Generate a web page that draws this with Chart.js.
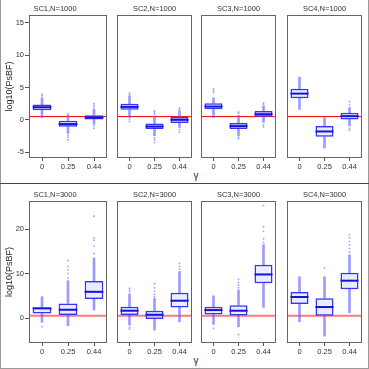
<!DOCTYPE html>
<html>
<head>
<meta charset="utf-8">
<script src="https://cdn.jsdelivr.net/npm/chart.js@4.4.0/dist/chart.umd.min.js"></script>
<style>
html, body { margin: 0; padding: 0; background: #fff; }
#fig { position: relative; width: 369px; height: 369px; overflow: hidden; font-family: "Liberation Sans", Arial, sans-serif; }
#fig canvas { position: absolute; }
.outer { position: absolute; left: 0; top: 0; width: 369px; height: 369px; box-sizing: border-box;
         border-left: 1px solid #999; border-right: 1px solid #999; border-bottom: 1px solid #999; }
.divider { position: absolute; left: 0; top: 183px; width: 369px; height: 1px; background: #444; }
.gamma { position: absolute; font-size: 10px; color: #333; transform: translate(-50%, -50%); }
</style>
</head>
<body>
<div id="fig">
  <div class="outer"></div>
  <div class="divider"></div>
  <div class="gamma" style="left:196px; top:175px;">γ</div>
  <div class="gamma" style="left:196px; top:360px;">γ</div>
</div>
<script>
const gammas = ['0', '0.25', '0.44'];

// N = 1000 row, one inner array per panel (SC1..SC4), one value per gamma
const titles1000 = ['SC1,N=1000', 'SC2,N=1000', 'SC3,N=1000', 'SC4,N=1000'];
const q1_1000  = [[1.49, -1.08, 0.05], [1.54, -1.43, -0.50], [1.64, -1.43, 0.46], [3.33, -2.60, 0.05]];
const med_1000 = [[1.95, -0.66, 0.35], [2.00, -1.03, 0.00], [2.05, -0.97, 0.87], [4.05, -1.80, 0.57]];
const q3_1000  = [[2.35, -0.15, 0.72], [2.50, -0.57, 0.42], [2.56, -0.50, 1.38], [4.80, -0.97, 1.08]];
const lo_1000  = [[0.35, -2.10, -0.66], [0.35, -2.46, -1.18], [0.35, -2.46, -0.40], [1.60, -4.35, -0.92]];
const hi_1000  = [[3.40, 0.77, 1.65], [3.70, 0.60, 1.40], [3.40, 0.72, 2.15], [6.60, 0.35, 1.90]];
// outliers: [gamma index, value]
const out_1000 = [
    [[0, 3.7], [0, 3.95], [1, 0.95], [1, -2.4], [1, -2.7], [1, -3.1], [2, 1.9], [2, 2.2], [2, 2.5], [2, -0.9], [2, -1.3]],
    [[0, 3.9], [0, 4.15], [0, 0.1], [0, -0.26], [1, 0.9], [1, 1.2], [1, 1.4], [1, -2.8], [1, -3.1], [1, -3.5], [2, 1.6], [2, 1.8], [2, -1.5], [2, -1.9]],
    [[0, 4.2], [0, 4.5], [0, 4.8], [1, 1.0], [1, 1.2], [1, -2.7], [1, -2.9], [2, 2.4], [2, 2.6], [2, -0.8], [2, -1.1]],
    [[2, 2.3], [2, 2.8], [2, -1.3], [2, -1.6]]
];
const ticks1000 = [-5, 0, 5, 10, 15];

// N = 3000 row
const titles3000 = ['SC1,N=3000', 'SC2,N=3000', 'SC3,N=3000', 'SC4,N=3000'];
const q1_3000  = [[1.05, 0.68, 4.30], [0.68, -0.23, 2.40], [0.83, 0.60, 7.80], [3.16, 0.52, 6.48]];
const med_3000 = [[2.18, 1.87, 5.90], [1.65, 0.75, 3.90], [1.80, 1.65, 9.80], [4.74, 2.48, 8.40]];
const q3_3000  = [[2.40, 3.30, 8.35], [2.55, 1.65, 5.70], [2.55, 2.87, 11.96], [5.87, 4.45, 10.20]];
const lo_3000  = [[-0.97, -1.70, 1.80], [-1.58, -2.70, -0.83], [-1.43, -1.96, 2.40], [-0.83, -4.06, 1.20]];
const hi_3000  = [[4.80, 8.40, 13.5], [5.40, 4.40, 10.45], [5.00, 6.30, 16.50], [9.30, 9.30, 14.20]];
const out_3000 = [
    [[0, -1.96], [1, 9.0], [1, 10.0], [1, 10.8], [1, 11.6], [1, 12.9], [2, 14.5], [2, 16.2], [2, 17.5], [2, 18.0], [2, 22.9]],
    [[0, 5.9], [0, 6.3], [0, 6.7], [0, -2.1], [0, -2.5], [1, 4.8], [1, 5.3], [1, 6.0], [1, 6.8], [1, 7.7], [2, 11.0], [2, 11.6], [2, 12.3]],
    [[0, -2.3], [1, 6.8], [1, 7.4], [1, 8.0], [1, 8.7], [1, -3.7], [2, 17.0], [2, 17.8], [2, 19.5], [2, 20.5], [2, 25.3]],
    [[1, 11.2], [2, 14.8], [2, 15.6], [2, 16.4], [2, 17.2], [2, 18.0], [2, 18.7]]
];
const ticks3000 = [0, 10, 20];

const refValue = 0.5;

const rows = [
    { top: 0, height: 178, min: -5.9, max: 16.2, ticks: ticks1000, titles: titles1000,
      q1: q1_1000, med: med_1000, q3: q3_1000, lo: lo_1000, hi: hi_1000, out: out_1000,
      refColor: '#ff0000', refWidth: 1 },
    { top: 186, height: 177, min: -5.6, max: 26.3, ticks: ticks3000, titles: titles3000,
      q1: q1_3000, med: med_3000, q3: q3_3000, lo: lo_3000, hi: hi_3000, out: out_3000,
      refColor: 'rgba(255,90,90,0.8)', refWidth: 2 }
];

const panelLeft = [29, 114, 198, 284];
const panelWidth = 81;
const fontFamily = '"Liberation Sans", Arial, sans-serif';

// panel frame
const framePlugin = {
    id: 'frame',
    afterDraw(chart) {
        const a = chart.chartArea, ctx = chart.ctx;
        ctx.save();
        ctx.strokeStyle = '#666';
        ctx.lineWidth = 1;
        ctx.strokeRect(Math.round(a.left) + 0.5, Math.round(a.top) + 0.5, Math.round(a.width) - 1, Math.round(a.height) - 1);
        ctx.restore();
    }
};

// horizontal reference line
const refPlugin = {
    id: 'refline',
    beforeDatasetsDraw(chart, args, opts) {
        const a = chart.chartArea, ctx = chart.ctx;
        const y = chart.scales.y.getPixelForValue(refValue);
        ctx.save();
        ctx.strokeStyle = opts.color;
        ctx.lineWidth = opts.width;
        ctx.beginPath();
        ctx.moveTo(a.left, y);
        ctx.lineTo(a.right, y);
        ctx.stroke();
        ctx.restore();
    }
};

// median line across each box
const medianPlugin = {
    id: 'median',
    afterDatasetsDraw(chart, args, opts) {
        const ctx = chart.ctx;
        const boxes = chart.getDatasetMeta(0).data;
        ctx.save();
        ctx.strokeStyle = '#1414d8';
        ctx.lineWidth = 2;
        opts.values.forEach((m, i) => {
            const bar = boxes[i];
            const y = chart.scales.y.getPixelForValue(m);
            ctx.beginPath();
            ctx.moveTo(bar.x - bar.width / 2, y);
            ctx.lineTo(bar.x + bar.width / 2, y);
            ctx.stroke();
        });
        ctx.restore();
    }
};

const makePanel = (row, i) => {
    const first = i === 0;
    const canvas = document.createElement('canvas');
    const left = first ? 0 : panelLeft[i] - 1;
    const width = first ? panelLeft[0] + panelWidth + 1 : panelWidth + 2;
    canvas.width = width;
    canvas.height = row.height;
    canvas.style.left = left + 'px';
    canvas.style.top = row.top + 'px';
    document.getElementById('fig').appendChild(canvas);

    const boxes = gammas.map((g, k) => [row.q1[i][k], row.q3[i][k]]);
    const lowW = gammas.map((g, k) => [row.lo[i][k], row.q1[i][k]]);
    const highW = gammas.map((g, k) => [row.q3[i][k], row.hi[i][k]]);
    const points = row.out[i].map(p => ({ x: gammas[p[0]], y: p[1] }));

    const whisker = {
        type: 'bar',
        backgroundColor: 'rgba(90,90,255,0.6)',
        borderWidth: 0,
        barThickness: 2,
        grouped: false,
        order: 3
    };

    new Chart(canvas, {
        type: 'bar',
        data: {
            labels: gammas,
            datasets: [
                {
                    data: boxes,
                    backgroundColor: 'rgba(200,200,255,0.35)',
                    borderColor: '#3535ff',
                    borderWidth: 1.5,
                    borderSkipped: false,
                    barPercentage: 0.72,
                    categoryPercentage: 1,
                    grouped: false,
                    order: 1
                },
                { ...whisker, data: lowW },
                { ...whisker, data: highW },
                {
                    type: 'line',
                    data: points,
                    showLine: false,
                    pointStyle: 'rect',
                    pointRadius: 1.1,
                    pointBackgroundColor: 'rgba(90,90,255,0.6)',
                    pointBorderWidth: 0,
                    order: 0
                }
            ]
        },
        options: {
            responsive: false,
            animation: false,
            layout: { padding: { left: first ? 0 : 1, right: 1, top: 0, bottom: 0 } },
            plugins: {
                legend: { display: false },
                tooltip: { enabled: false },
                title: {
                    display: true,
                    text: row.titles[i],
                    color: '#333',
                    font: { size: 7.5, family: fontFamily, weight: 'normal' },
                    padding: { top: 4, bottom: 2 }
                },
                refline: { color: row.refColor, width: row.refWidth },
                median: { values: row.med[i] }
            },
            scales: {
                x: {
                    type: 'category',
                    offset: true,
                    grid: { display: true, drawOnChartArea: false, offset: false, tickLength: 3, color: '#555' },
                    border: { display: false },
                    ticks: { color: '#333', font: { size: 7.5, family: fontFamily }, padding: 1, maxRotation: 0, autoSkip: false },
                    afterFit: s => { s.height = 20; }
                },
                y: {
                    type: 'linear',
                    display: first,
                    min: row.min,
                    max: row.max,
                    afterBuildTicks: s => { s.ticks = row.ticks.map(v => ({ value: v })); },
                    grid: { drawOnChartArea: false, tickLength: 4, color: '#555' },
                    border: { display: false },
                    ticks: { color: '#333', font: { size: 7.5, family: fontFamily }, padding: 1 },
                    title: {
                        display: true,
                        text: 'log10(PsBF)',
                        color: '#222',
                        font: { size: 9, family: fontFamily },
                        padding: { top: 4, bottom: 0 }
                    },
                    afterFit: s => { s.width = first ? 29 : 0; }
                }
            }
        },
        plugins: [framePlugin, refPlugin, medianPlugin]
    });
};

rows.forEach(row => {
    for (let i = 0; i < 4; i++) makePanel(row, i);
});
</script>
</body>
</html>
